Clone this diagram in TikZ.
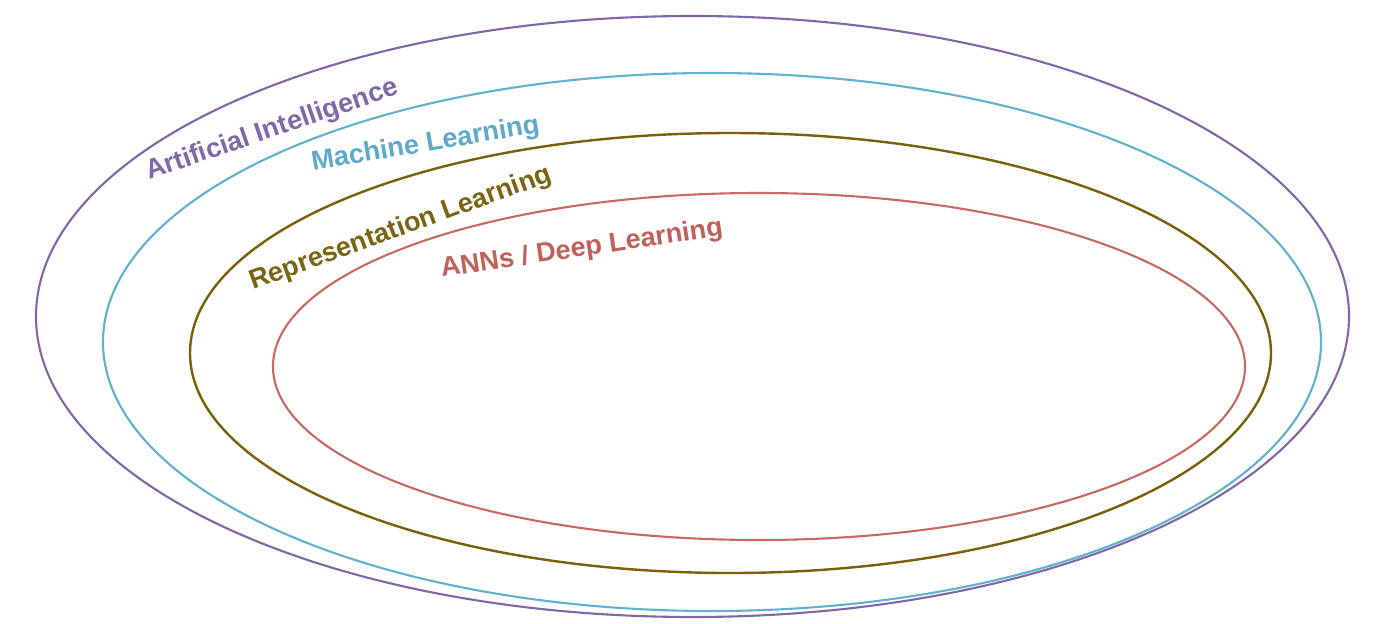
\documentclass[tikz,border=0pt]{standalone}
\usepackage{fontspec}
\setmainfont{Liberation Sans}
\usetikzlibrary{shapes.geometric}
\definecolor{aiC}{HTML}{8068A8}
\definecolor{mlC}{HTML}{62B2CF}
\definecolor{rlC}{HTML}{7A6008}
\definecolor{dlC}{HTML}{C86A62}
\definecolor{aiT}{HTML}{7D6AA6}
\definecolor{mlT}{HTML}{5FA9C9}
\definecolor{rlT}{HTML}{7B6414}
\definecolor{dlT}{HTML}{C2605A}
\tikzset{
  ring/.style={ellipse, draw=#1, line width=2.1bp, inner sep=0pt, outer sep=0pt},
  lbl/.style={anchor=base west, inner sep=0pt, text=#1,
    font=\fontsize{27.2}{32}\selectfont\bfseries}
}
\begin{document}
\begin{tikzpicture}[x=1bp,y=-1bp]
\useasboundingbox (0,0) rectangle (1388,624);
\fill[white] (0,0) rectangle (1388,624);
\node[ring=aiC, minimum width=1313bp, minimum height=601bp] (ai) at (692.5,316.5) {};
\node[ring=mlC, minimum width=1218bp, minimum height=538bp] (ml) at (712,342) {};
\node[ring=rlC, line width=2.4bp, minimum width=1081bp, minimum height=440bp] (rl) at (730.5,353) {};
\node[ring=dlC, minimum width=972bp, minimum height=347bp] (dl) at (759,366.5) {};
\node[lbl=aiT, rotate=18.9] (aiL) at (149,180) {Artificial Intelligence};
\node[lbl=mlT, rotate=9.5] (mlL) at (313,170.5) {Machine Learning};
\node[lbl=rlT, rotate=20] (rlL) at (253,290) {Representation Learning};
\node[lbl=dlT, rotate=8.4] (dlL) at (442,277) {ANNs / Deep Learning};
\end{tikzpicture}
\end{document}
